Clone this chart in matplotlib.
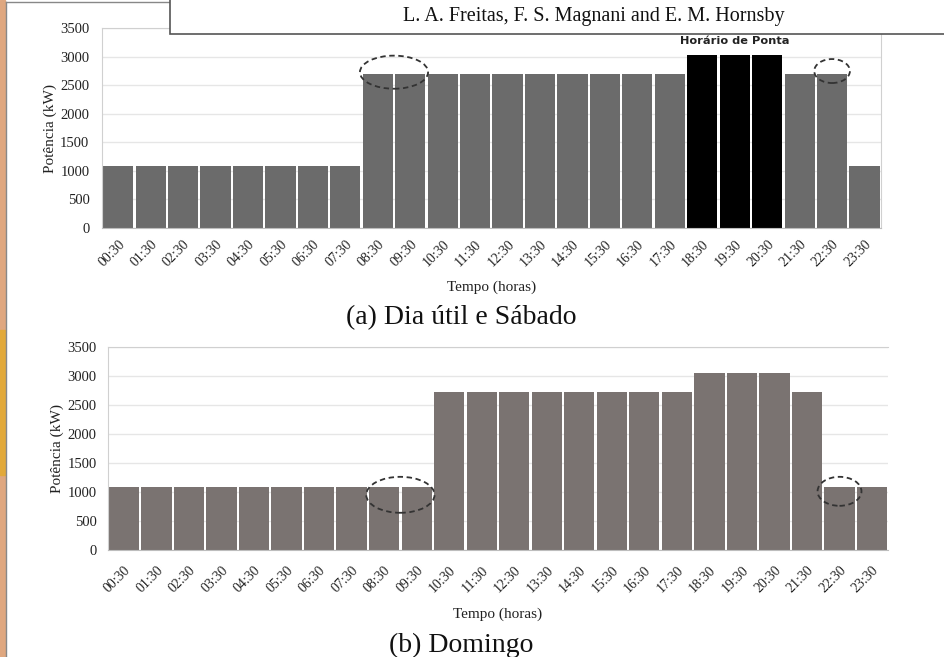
import matplotlib
matplotlib.use("Agg")
import matplotlib.pyplot as plt
from matplotlib.patches import Ellipse, Rectangle

plt.rcParams['font.family'] = ['Liberation Serif', 'DejaVu Serif']

# horários (meia hora de cada hora)
horas = ['00:30', '01:30', '02:30', '03:30', '04:30', '05:30', '06:30', '07:30',
         '08:30', '09:30', '10:30', '11:30', '12:30', '13:30', '14:30', '15:30',
         '16:30', '17:30', '18:30', '19:30', '20:30', '21:30', '22:30', '23:30']

# (a) Dia útil e Sábado - potência (kW)
pot_util = [1080, 1080, 1080, 1080, 1080, 1080, 1080, 1080,
            2700, 2700, 2700, 2700, 2700, 2700, 2700, 2700,
            2700, 2700, 3040, 3040, 3040, 2700, 2700, 1080]
ponta = [False] * 18 + [True] * 3 + [False] * 3

# (b) Domingo - potência (kW)
pot_domingo = [1080, 1080, 1080, 1080, 1080, 1080, 1080, 1080,
               1080, 1080, 2720, 2720, 2720, 2720, 2720, 2720,
               2720, 2720, 3050, 3050, 3050, 2720, 1080, 1080]

fig = plt.figure(figsize=(9.44, 6.57), dpi=100)

# page decorations of the screenshot
fig.patches.append(Rectangle((0, 0), 0.005, 1, transform=fig.transFigure,
                             color='#dfa77f', zorder=0))
fig.patches.append(Rectangle((0, 0.277), 0.005, 0.22, transform=fig.transFigure,
                             color='#e2a93a', zorder=0))
fig.add_artist(plt.Line2D([0.006, 0.006], [0, 0.997], color='#888888', lw=1))
fig.add_artist(plt.Line2D([0.006, 0.18], [0.997, 0.997], color='#888888', lw=1))


def draw_panel(ax, valores, cores, frame_color, ypad, xpad, xlabelpad):
    x = range(len(horas))
    ax.bar(x, valores, width=0.93, color=cores, zorder=2)
    ax.set_xlim(-0.5, len(horas) - 0.5)
    ax.set_ylim(0, 3500)
    ax.set_yticks(range(0, 3501, 500))
    ax.set_xticks(list(x))
    ax.set_xticklabels(horas, rotation=45, ha='right', rotation_mode='anchor')
    ax.tick_params(length=0, labelsize=10, labelcolor='#222222')
    ax.tick_params(axis='y', pad=ypad, labelsize=10.5)
    ax.tick_params(axis='x', pad=xpad)
    ax.yaxis.grid(True, color='#e6e6e6', lw=1, zorder=0)
    ax.set_axisbelow(True)
    for s in ax.spines.values():
        s.set_color(frame_color)
    ax.spines['bottom'].set_color('#bdbdbd')
    ax.set_xlabel('Tempo (horas)', fontsize=11, labelpad=xlabelpad, color='#222222')
    ax.set_ylabel('Potência (kW)', fontsize=11, labelpad=2, color='#222222')


# (a)
ax1 = fig.add_axes([0.108, 0.653, 0.825, 0.304])
cores1 = ['#000000' if p else '#6b6b6b' for p in ponta]
draw_panel(ax1, pot_util, cores1, '#d0d0d0', 9, 7, 8)
ax1.text(19, 3190, 'Horário de Ponta', ha='center', va='bottom',
         fontsize=8.2, fontweight='bold', family='DejaVu Sans', color='#222222')
ax1.add_patch(Ellipse((8.5, 2730), 2.1, 580, fill=False, ls=(0, (3, 2)),
                      lw=1.3, color='#333333', zorder=3))
ax1.add_patch(Ellipse((22.0, 2750), 1.1, 420, fill=False, ls=(0, (3, 2)),
                      lw=1.3, color='#333333', zorder=3))

# (b)
ax2 = fig.add_axes([0.114, 0.163, 0.827, 0.309])
draw_panel(ax2, pot_domingo, '#7a7371', '#d0d0d0', 8, 10, 9)
ax2.spines['right'].set_visible(False)
ax2.add_patch(Ellipse((8.5, 950), 2.1, 620, fill=False, ls=(0, (3, 2)),
                      lw=1.3, color='#333333', zorder=3))
ax2.add_patch(Ellipse((22.0, 1010), 1.35, 500, fill=False, ls=(0, (3, 2)),
                      lw=1.3, color='#333333', zorder=3))

# captions
fig.text(0.489, 1 - 318 / 657, '(a) Dia útil e Sábado', ha='center', va='center',
         fontsize=20, color='#111111')
fig.text(0.489, 1 - 645 / 657, '(b) Domingo', ha='center', va='center',
         fontsize=20, color='#111111')

# header box
fig.patches.append(Rectangle((0.18, 0.948), 0.83, 0.06, transform=fig.transFigure,
                             facecolor='white', edgecolor='#555555', lw=1.2, zorder=5))
fig.text(0.629, 1 - 16 / 657, 'L. A. Freitas, F. S. Magnani and E. M. Hornsby',
         ha='center', va='center', fontsize=14.5, color='#111111', zorder=6)

fig.savefig('out.png', dpi=100)
